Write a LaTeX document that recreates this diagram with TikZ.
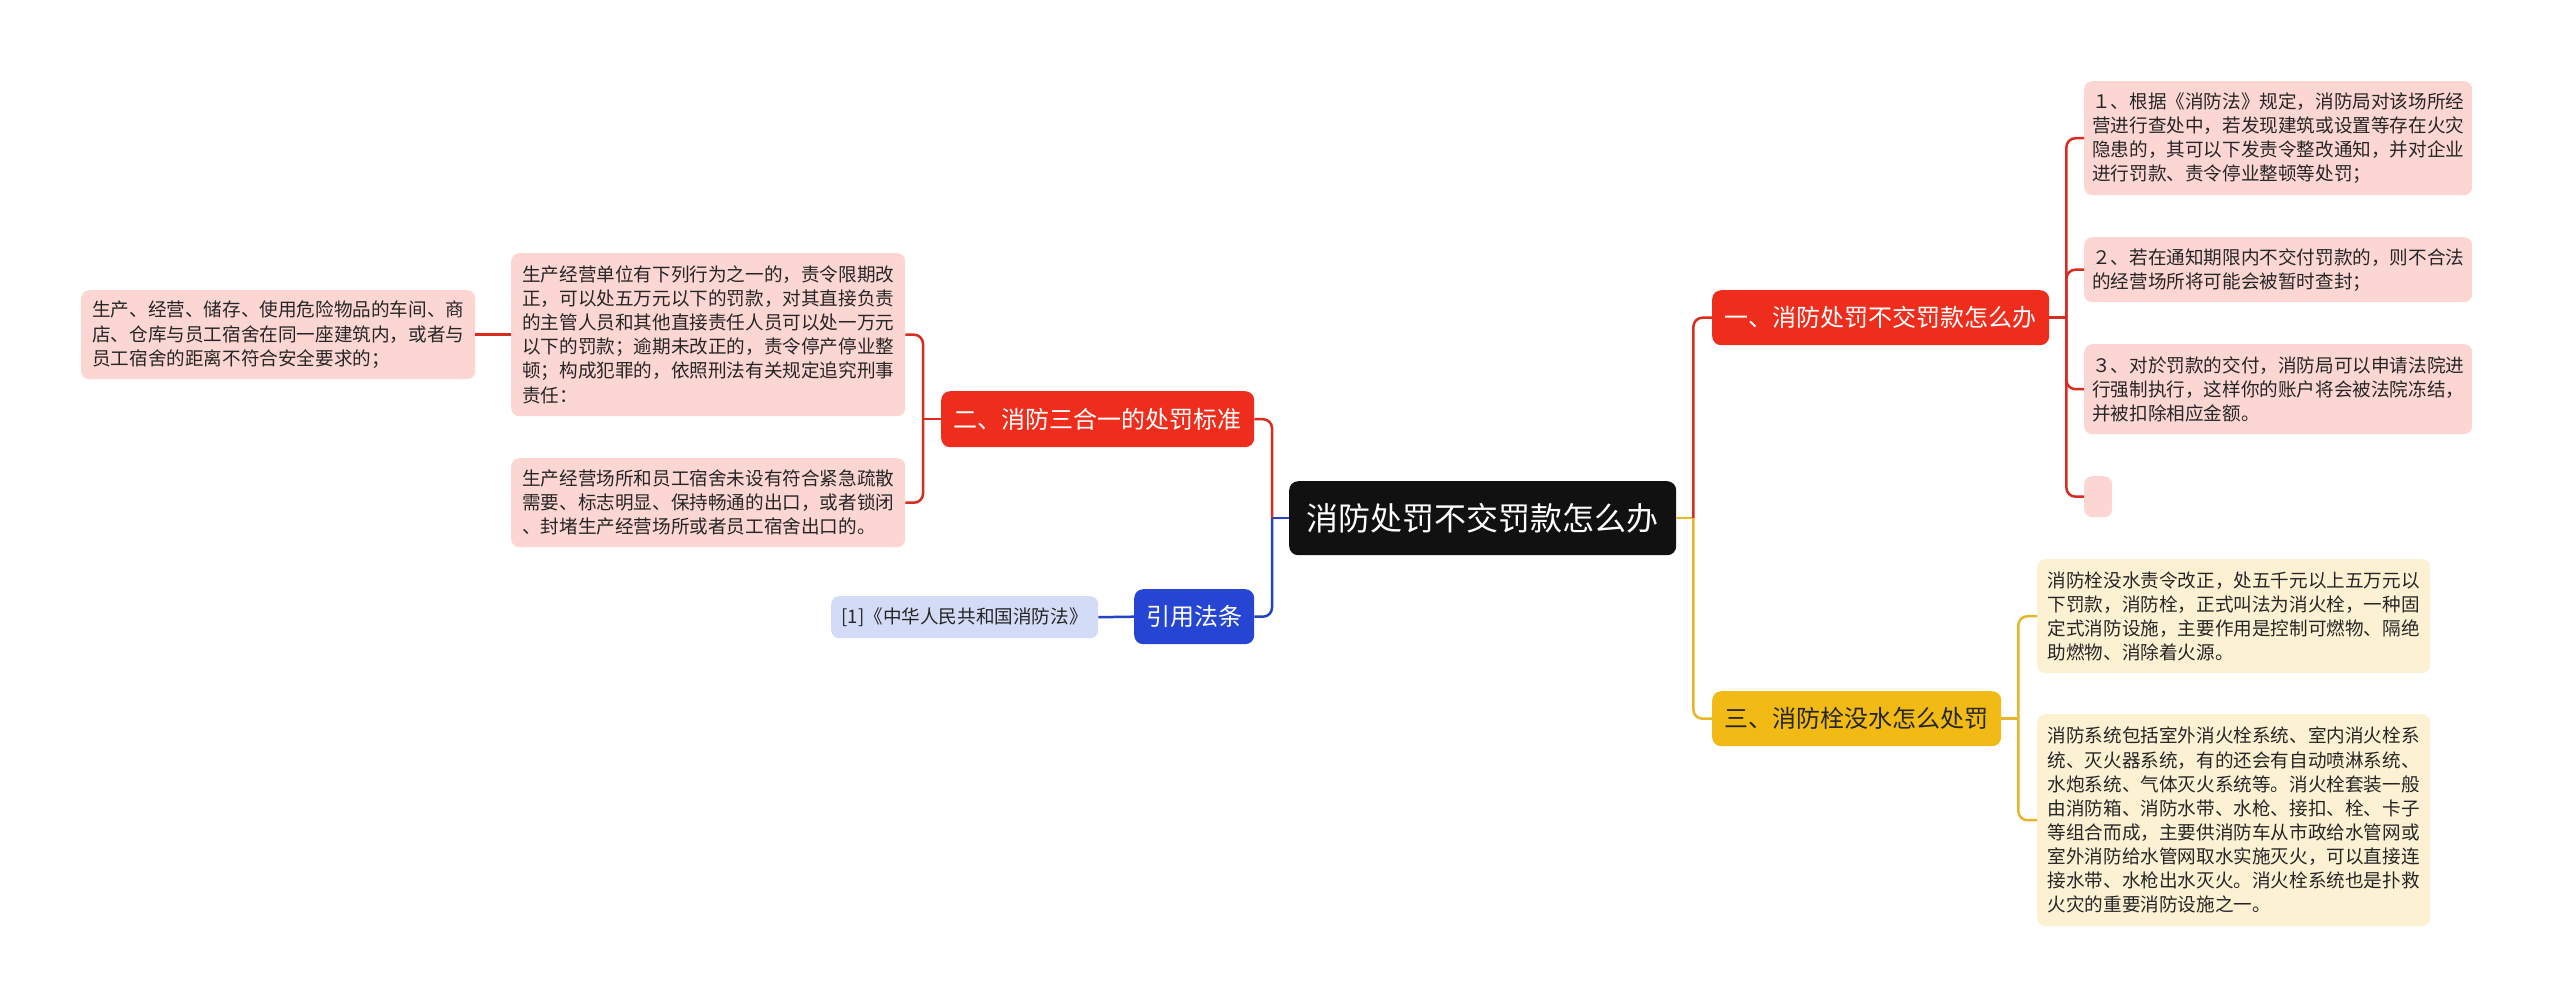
\documentclass[tikz,border=0pt]{standalone}
\usepackage{fontspec}
\setmainfont{Noto Sans CJK SC}
\definecolor{rootbg}{HTML}{111111}
\definecolor{redline}{HTML}{D92B1F}
\definecolor{redfill}{HTML}{EE2D1C}
\definecolor{pinkfill}{HTML}{FBD6D3}
\definecolor{yelline}{HTML}{E7B52A}
\definecolor{yelfill}{HTML}{F1BA14}
\definecolor{creamfill}{HTML}{FDF1D3}
\definecolor{blueline}{HTML}{2342C4}
\definecolor{bluefill}{HTML}{2545D2}
\definecolor{lavfill}{HTML}{D4DBF6}
\definecolor{ink}{HTML}{262626}
\begin{document}
\begin{tikzpicture}[x=1pt,y=-1pt,
  basebox/.style={inner sep=0pt, anchor=north west, align=left},
  leafbox/.style={basebox, rounded corners=8pt, text=ink, font=\fontsize{18.6}{24.1}\selectfont},
  pinkleaf/.style={leafbox, fill=pinkfill},
  creamleaf/.style={leafbox, fill=creamfill},
  lavleaf/.style={leafbox, fill=lavfill},
  branchbox/.style={basebox, rounded corners=9pt, font=\fontsize{24}{28}\selectfont, minimum height=55},
  redbranch/.style={branchbox, fill=redfill, text=white},
  yelbranch/.style={branchbox, fill=yelfill, text=ink},
  bluebranch/.style={branchbox, fill=bluefill, text=white},
  rootbox/.style={basebox, rounded corners=9pt, fill=rootbg, text=white, font=\fontsize{32}{36}\selectfont},
  conn/.style={line width=2.5pt, rounded corners=9pt},
  redconn/.style={conn, draw=redline},
  yelconn/.style={conn, draw=yelline},
  blueconn/.style={conn, draw=blueline}
]
\useasboundingbox (0,0) rectangle (2560,1007);

% root
\node[rootbox, minimum width=387, minimum height=74] (root) at (1289,481) {消防处罚不交罚款怎么办};

% right side
\node[redbranch, minimum width=337] (b1) at (1712,290) {一、消防处罚不交罚款怎么办};
\node[yelbranch, minimum width=289] (b3) at (1712,691) {三、消防栓没水怎么处罚};

\node[pinkleaf, minimum width=388, minimum height=114] (c1) at (2084,81)
 {１、根据《消防法》规定，消防局对该场所经\\营进行查处中，若发现建筑或设置等存在火灾\\隐患的，其可以下发责令整改通知，并对企业\\进行罚款、责令停业整顿等处罚；};
\node[pinkleaf, minimum width=388, minimum height=65] (c2) at (2084,237)
 {２、若在通知期限内不交付罚款的，则不合法\\的经营场所将可能会被暂时查封；};
\node[pinkleaf, minimum width=388, minimum height=90] (c3) at (2084,344)
 {３、对於罚款的交付，消防局可以申请法院进\\行强制执行，这样你的账户将会被法院冻结，\\并被扣除相应金额。};
\node[pinkleaf, minimum width=28, minimum height=41] (c4) at (2084,476) {};

\node[creamleaf, minimum width=393, minimum height=114] (y1) at (2037,559)
 {消防栓没水责令改正，处五千元以上五万元以\\下罚款，消防栓，正式叫法为消火栓，一种固\\定式消防设施，主要作用是控制可燃物、隔绝\\助燃物、消除着火源。};
\node[creamleaf, minimum width=393, minimum height=212] (y2) at (2037,714)
 {消防系统包括室外消火栓系统、室内消火栓系\\统、灭火器系统，有的还会有自动喷淋系统、\\水炮系统、气体灭火系统等。消火栓套装一般\\由消防箱、消防水带、水枪、接扣、栓、卡子\\等组合而成，主要供消防车从市政给水管网或\\室外消防给水管网取水实施灭火，可以直接连\\接水带、水枪出水灭火。消火栓系统也是扑救\\火灾的重要消防设施之一。};

% left side
\node[redbranch, minimum width=313, minimum height=56] (b2) at (941,391) {二、消防三合一的处罚标准};
\node[bluebranch, minimum width=120] (bl) at (1134,589) {引用法条};

\node[pinkleaf, minimum width=394, minimum height=163] (m1) at (511,253)
 {生产经营单位有下列行为之一的，责令限期改\\正，可以处五万元以下的罚款，对其直接负责\\的主管人员和其他直接责任人员可以处一万元\\以下的罚款；逾期未改正的，责令停产停业整\\顿；构成犯罪的，依照刑法有关规定追究刑事\\责任：};
\node[pinkleaf, minimum width=394, minimum height=89] (m2) at (511,458)
 {生产经营场所和员工宿舍未设有符合紧急疏散\\需要、标志明显、保持畅通的出口，或者锁闭\\、封堵生产经营场所或者员工宿舍出口的。};
\node[pinkleaf, minimum width=394, minimum height=89] (l1) at (81,290)
 {生产、经营、储存、使用危险物品的车间、商\\店、仓库与员工宿舍在同一座建筑内，或者与\\员工宿舍的距离不符合安全要求的；};
\node[lavleaf, minimum width=267, minimum height=42] (ref) at (831,596)
 {[1]《中华人民共和国消防法》};

% junction coordinates
\coordinate (rj) at ([xshift=17pt]root.east);
\coordinate (lj) at ([xshift=-17pt]root.west);
\coordinate (j1) at ([xshift=17pt]b1.east);
\coordinate (j3) at ([xshift=17pt]b3.east);
\coordinate (j2) at ([xshift=-18pt]b2.west);

% connectors right
\draw[yelconn] (root.east) -- (rj);
\draw[redconn] (rj) |- (b1.west);
\draw[yelconn] (rj) |- (b3.west);
\draw[redconn] (b1.east) -- (j1);
\draw[redconn] (j1) |- (c1.west);
\draw[redconn] (j1) |- (c2.west);
\draw[redconn] (j1) |- (c3.west);
\draw[redconn] (j1) |- (c4.west);
\draw[yelconn] (b3.east) -- (j3);
\draw[yelconn] (j3) |- (y1.west);
\draw[yelconn] (j3) |- (y2.west);

% connectors left
\draw[blueconn] (root.west) -- (lj);
\draw[redconn] (lj) |- (b2.east);
\draw[blueconn] (lj) |- (bl.east);
\draw[blueconn] (bl.west) -- (ref.east);
\draw[redconn] (b2.west) -- (j2);
\draw[redconn] (j2) |- (m1.east);
\draw[redconn] (j2) |- (m2.east);
\draw[redconn] (m1.west |- l1.east) -- (l1.east);
\end{tikzpicture}
\end{document}
